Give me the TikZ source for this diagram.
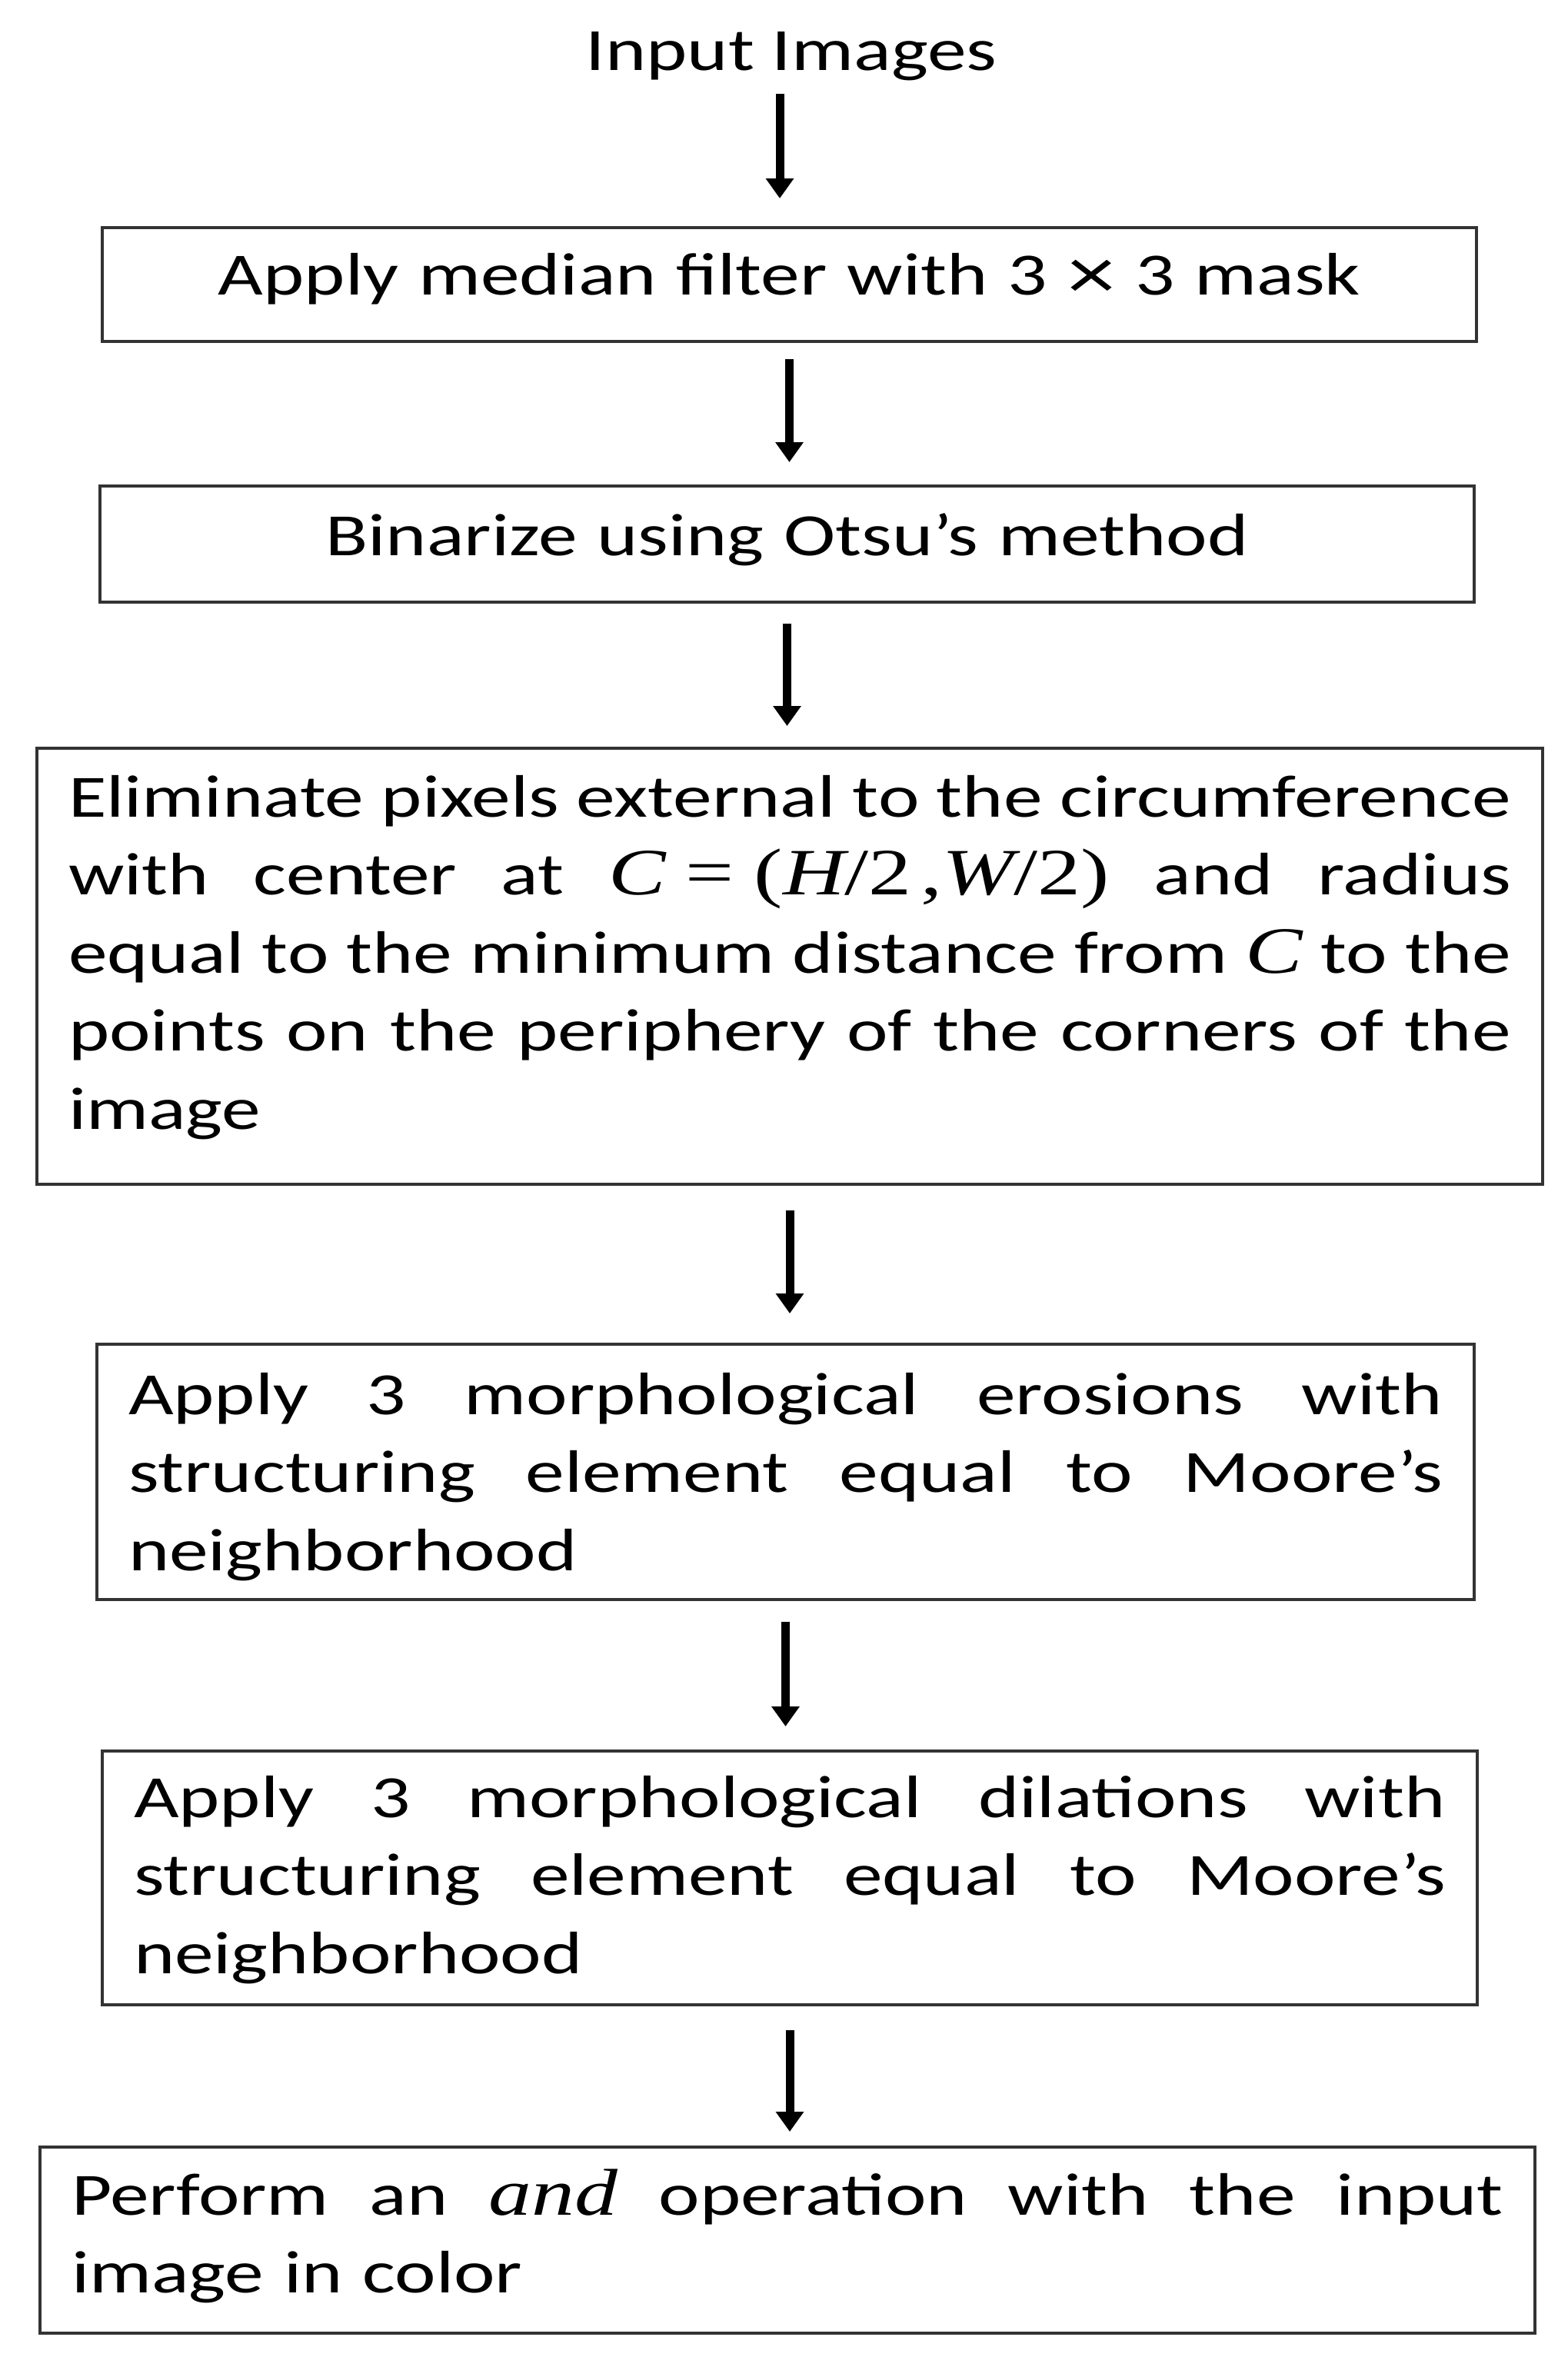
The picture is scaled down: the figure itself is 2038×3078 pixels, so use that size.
\documentclass[tikz,border=0pt]{standalone}
\usepackage{fontspec}
\setmainfont[FakeStretch=1.3]{Carlito}
\newfontfamily\mserif[FakeStretch=1.3]{Liberation Serif}
\usetikzlibrary{arrows.meta}
\newcommand{\jline}[2]{\makebox[#1][s]{\spaceskip=0pt plus 1fil minus 6pt\relax\xspaceskip=0pt\relax #2}}
\newcommand{\mi}[1]{{\fontsize{86}{101.5}\selectfont\mserif\itshape #1}}
\newcommand{\mr}[1]{{\fontsize{86}{101.5}\selectfont\mserif #1}}
\tikzset{
  flowbox/.style={draw=black!80, line width=3.5pt, inner xsep=41pt, inner ysep=0pt,
    outer sep=0pt, font=\fontsize{78}{101.5}\selectfont, anchor=north west},
  arr/.style={line width=11pt, -{Triangle[width=35pt,length=26pt]}},
}
\begin{document}
\begin{tikzpicture}[x=1pt,y=-1pt]
\useasboundingbox (0,0) rectangle (2038,3078);
\node[font=\fontsize{78}{101.5}\selectfont, inner sep=0pt, anchor=base] (in) at (1029,92) {Input Images};

\node[flowbox, text width=1705pt, align=center, text height=87pt, text depth=61pt] (b1) at (133,296)
  {Apply median filter with 3 {\fontsize{96}{96}\selectfont\raisebox{-5pt}{×}} 3 mask};

\node[flowbox, text width=1705pt, align=center, text height=90pt, text depth=61pt] (b2) at (130,632)
  {Binarize using Otsu’s method};

\node[flowbox, text width=1876pt, align=left, text height=89pt, text depth=478pt] (b3) at (48,973)
  {\jline{1876pt}{Eliminate pixels external to the circumference}\\
   \jline{1876pt}{with center at \mbox{\mi{C}\mr{\kern26pt=\kern26pt(}\mi{H}\mr{/2\kern12pt,}\mi{W}\mr{/2)}} and radius}\\
   \jline{1876pt}{equal to the minimum distance from \mi{C} to the}\\
   \jline{1876pt}{points on the periphery of the corners of the}\\
   image};

\node[flowbox, text width=1709pt, align=left, text height=91pt, text depth=241pt] (b4) at (126,1748)
  {\jline{1709pt}{Apply 3 morphological erosions with}\\
   \jline{1709pt}{structuring element equal to Moore’s}\\
   neighborhood};

\node[flowbox, text width=1706pt, align=left, text height=86pt, text depth=244pt] (b5) at (133,2277)
  {\jline{1706pt}{Apply 3 morphological dilations with}\\
   \jline{1706pt}{structuring element equal to Moore’s}\\
   neighborhood};

\node[flowbox, text width=1862pt, align=left, text height=88pt, text depth=154pt] (b6) at (52,2792)
  {\jline{1862pt}{Perform an \mi{and} operation with the input}\\
   image in color};

\draw[arr, shorten <=16pt, shorten >=38pt] ([xshift=-15pt]in.south) -- ([xshift=-15pt]in.south |- b1.north);
\draw[arr, shorten <=23pt, shorten >=31pt] (b1.south) -- (b1.south |- b2.north);
\draw[arr, shorten <=28pt, shorten >=29pt] (b2.south) -- (b2.south |- b3.north);
\draw[arr, shorten <=34pt, shorten >=40pt] (b3.south) -- (b3.south |- b4.north);
\draw[arr, shorten <=29pt, shorten >=32pt] (b4.south) -- (b4.south |- b5.north);
\draw[arr, shorten <=33pt, shorten >=20pt] (b5.south) -- (b5.south |- b6.north);
\end{tikzpicture}
\end{document}
